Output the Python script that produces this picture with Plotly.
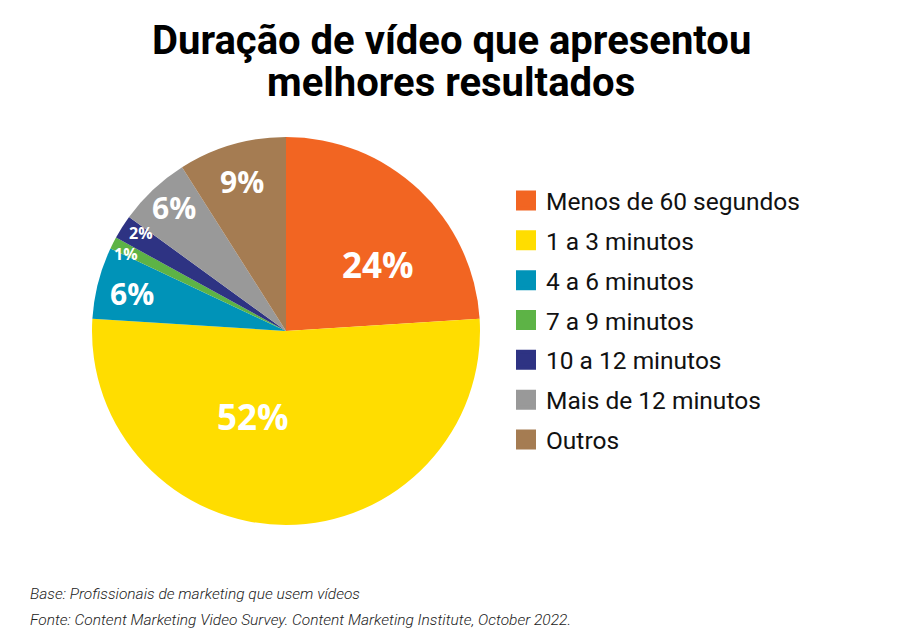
import math
import plotly.graph_objects as go

categories = ["Menos de 60 segundos", "1 a 3 minutos", "4 a 6 minutos", "7 a 9 minutos",
              "10 a 12 minutos", "Mais de 12 minutos", "Outros"]
values = [24, 52, 6, 1, 2, 6, 9]
colors = ["#F26522", "#FFDD00", "#0093B8", "#5DB346", "#2E3383", "#999999", "#A57C52"]

# label styling: font size, radial position (fraction of radius), angular nudge (deg)
label_sizes = [35, 35, 30, 16, 16, 30, 30]
label_radius = [0.585, 0.47, 0.815, 0.91, 0.90, 0.855, 0.80]
label_nudge = [10.8, 21.0, -0.6, -1.2, 1.6, 1.2, 0.0]

title_lines = ["Duração de vídeo que apresentou", "melhores resultados"]
notes = ["Base: Profissionais de marketing que usem vídeos",
         "Fonte: Content Marketing Video Survey. Content Marketing Institute, October 2022."]

W, H = 913, 631
OFF = 8  # page body margin


def px(x):
    return (x - OFF) / W


def py(y):
    return 1 - (y - OFF) / H


dom_x = [px(91), px(481)]
dom_y = [py(525), py(137)]

fig = go.Figure()
fig.add_trace(go.Pie(
    labels=categories,
    values=values,
    sort=False,
    direction="clockwise",
    rotation=0,
    marker=dict(colors=colors, line=dict(width=0)),
    textinfo="none",
    domain=dict(x=dom_x, y=dom_y),
    showlegend=False,
    hoverinfo="label+percent",
))

# percentage labels, placed at each slice's mid-angle
cx = (dom_x[0] + dom_x[1]) / 2
cy = (dom_y[0] + dom_y[1]) / 2
rx = (dom_x[1] - dom_x[0]) / 2
ry = (dom_y[1] - dom_y[0]) / 2
total = sum(values)
cum = 0
for v, fs, r, nd in zip(values, label_sizes, label_radius, label_nudge):
    mid = (cum + v / 2) / total * 2 * math.pi + math.radians(nd)
    cum += v
    fig.add_annotation(text=f"<b>{v}%</b>", xref="paper", yref="paper",
                       x=cx + r * rx * math.sin(mid), y=cy + r * ry * math.cos(mid),
                       showarrow=False, xanchor="center", yanchor="middle",
                       font=dict(family="Open Sans", size=fs, color="white"))

# legend entries
for name, c in zip(categories, colors):
    fig.add_trace(go.Scatter(x=[None], y=[None], mode="markers", name=name, legendgroup=name,
                             marker=dict(symbol="square", size=16, color=c, line=dict(color=c, width=4)),
                             hoverinfo="skip"))

fig.update_layout(
    width=W, height=H,
    margin=dict(l=0, r=0, t=0, b=0),
    paper_bgcolor="white",
    plot_bgcolor="white",
    xaxis=dict(visible=False),
    yaxis=dict(visible=False),
    legend=dict(x=px(506), y=py(178), xanchor="left", yanchor="top",
                font=dict(family="Roboto", size=24.5, color="#111111"),
                tracegroupgap=5, itemclick=False, itemdoubleclick=False),
)

for i, t in enumerate(title_lines):
    fig.add_annotation(text=t, xref="paper", yref="paper", x=px(451), y=py(40 + i * 43),
                       xanchor="center", yanchor="middle", showarrow=False,
                       font=dict(family="Roboto", size=40, color="black", weight="bold"))

for i, n in enumerate(notes):
    fig.add_annotation(text=n, xref="paper", yref="paper", x=px(28), y=py(594 + i * 26),
                       xanchor="left", yanchor="middle", showarrow=False,
                       font=dict(family="Roboto", size=15.5, color="#222222", style="italic", weight=300))

fig.write_html("out.html")
